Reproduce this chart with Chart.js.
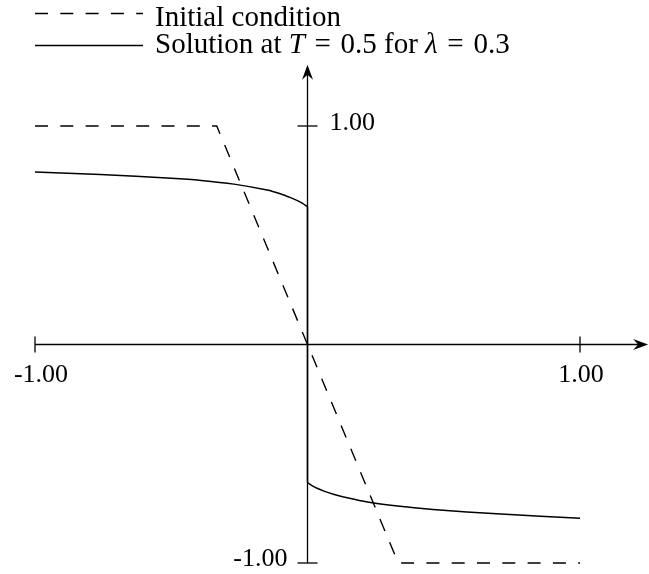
<!DOCTYPE html>
<html>
<head>
<meta charset="utf-8">
<script src="https://cdn.jsdelivr.net/npm/chart.js@4"></script>
<style>
  html, body { margin: 0; padding: 0; background: #fff; }
  canvas { display: block; }
</style>
</head>
<body>
<canvas id="chart" width="649" height="574"></canvas>
<script>
// Initial condition (dashed)
const initX = [-1, -0.333, 0.333, 1];
const initY = [1, 1, -1, -1];

// Solution at T = 0.5 for lambda = 0.3 (solid)
const solX = [-1, -0.76, -0.5, -0.39, -0.27, -0.148, -0.1, -0.062, -0.035, -0.018, -0.006, 0,
              0, 0.006, 0.018, 0.035, 0.06, 0.095, 0.15, 0.22, 0.33, 0.46, 0.71, 1];
const solY = [0.79, 0.778, 0.761, 0.751, 0.734, 0.707, 0.69, 0.672, 0.657, 0.646, 0.636, 0.63,
              -0.63, -0.637, -0.647, -0.658, -0.671, -0.685, -0.703, -0.721, -0.739, -0.755, -0.776, -0.795];

const xTicks = [-1, 1];
const xTickLabels = ['-1.00', '1.00'];
const yTicks = [1, -1];
const yTickLabels = ['1.00', '-1.00'];

function toPoints(xs, ys) {
  return xs.map((x, i) => ({ x: x, y: ys[i] }));
}

// little stealth-style arrow head
function arrowHead(ctx, x, y, angle) {
  ctx.save();
  ctx.translate(x, y);
  ctx.rotate(angle);
  ctx.beginPath();
  ctx.moveTo(0, 0);
  ctx.lineTo(-15, -5.5);
  ctx.lineTo(-10, 0);
  ctx.lineTo(-15, 5.5);
  ctx.closePath();
  ctx.fill();
  ctx.restore();
}

const axesPlugin = {
  id: 'axes',
  beforeDatasetsDraw(chart) {
    const ctx = chart.ctx;
    const xs = chart.scales.x, ys = chart.scales.y;
    const x0 = xs.getPixelForValue(0), y0 = ys.getPixelForValue(0);
    const xEnd = xs.getPixelForValue(1.25), yEnd = ys.getPixelForValue(1.28);
    ctx.save();
    ctx.strokeStyle = '#000';
    ctx.fillStyle = '#000';
    ctx.lineWidth = 1.3;

    // x axis
    ctx.beginPath();
    ctx.moveTo(xs.getPixelForValue(-1), y0);
    ctx.lineTo(xEnd - 8, y0);
    ctx.stroke();
    arrowHead(ctx, xEnd, y0, 0);

    // y axis
    ctx.beginPath();
    ctx.moveTo(x0, ys.getPixelForValue(-1));
    ctx.lineTo(x0, yEnd + 8);
    ctx.stroke();
    arrowHead(ctx, x0, yEnd, -Math.PI / 2);

    ctx.font = '26px "Liberation Serif", serif';
    ctx.textBaseline = 'middle';

    xTicks.forEach((v, i) => {
      const px = xs.getPixelForValue(v);
      ctx.beginPath();
      ctx.moveTo(px, y0 - 8);
      ctx.lineTo(px, y0 + 8);
      ctx.stroke();
      ctx.textAlign = 'center';
      ctx.fillText(xTickLabels[i], px + (v < 0 ? 6 : 1), y0 + 31);
    });

    yTicks.forEach((v, i) => {
      const py = ys.getPixelForValue(v);
      ctx.beginPath();
      ctx.moveTo(x0 - 10, py);
      ctx.lineTo(x0 + 10, py);
      ctx.stroke();
      if (v > 0) {
        ctx.textAlign = 'left';
        ctx.fillText(yTickLabels[i], x0 + 22, py - 3);
      } else {
        ctx.textAlign = 'right';
        ctx.fillText(yTickLabels[i], x0 - 20, py - 4);
      }
    });
    ctx.restore();
  },
  afterDraw(chart) {
    // legend at top left
    const ctx = chart.ctx;
    ctx.save();
    ctx.strokeStyle = '#000';
    ctx.fillStyle = '#000';

    ctx.lineWidth = 1.4;
    ctx.setLineDash([13, 12.3]);
    ctx.beginPath();
    ctx.moveTo(35, 13.5);
    ctx.lineTo(143, 13.5);
    ctx.stroke();

    ctx.setLineDash([]);
    ctx.lineWidth = 1.5;
    ctx.beginPath();
    ctx.moveTo(35, 45.5);
    ctx.lineTo(143, 45.5);
    ctx.stroke();

    ctx.textAlign = 'left';
    ctx.textBaseline = 'alphabetic';
    const roman = '29px "Liberation Serif", serif';
    const italic = 'italic 29px "Liberation Serif", serif';
    ctx.font = roman;
    ctx.fillText('Initial condition', 155, 26);

    const parts = [
      ['Solution at ', roman],
      ['T', italic],
      [' \u200A=\u200A 0.5 for ', roman],
      ['λ', italic],
      [' \u200A=\u200A 0.3', roman]
    ];
    let x = 155;
    parts.forEach(p => {
      ctx.font = p[1];
      ctx.fillText(p[0], x, 53);
      x += ctx.measureText(p[0]).width;
    });
    ctx.restore();
  }
};

new Chart(document.getElementById('chart'), {
  type: 'scatter',
  data: {
    datasets: [
      {
        label: 'Initial condition',
        data: toPoints(initX, initY),
        showLine: true,
        borderColor: '#000',
        borderWidth: 1.4,
        borderDash: [13, 12.3],
        pointRadius: 0,
        fill: false,
        clip: false
      },
      {
        label: 'Solution at T = 0.5 for λ = 0.3',
        data: toPoints(solX, solY),
        showLine: true,
        borderColor: '#000',
        borderWidth: 1.5,
        pointRadius: 0,
        tension: 0.25,
        fill: false,
        clip: false
      }
    ]
  },
  options: {
    responsive: false,
    animation: false,
    layout: { padding: { left: 35, right: 69, top: 126, bottom: 11 } },
    scales: {
      x: { type: 'linear', min: -1, max: 1, display: false },
      y: { type: 'linear', min: -1, max: 1, display: false }
    },
    plugins: {
      legend: { display: false },
      tooltip: { enabled: false }
    }
  },
  plugins: [axesPlugin]
});
</script>
</body>
</html>
